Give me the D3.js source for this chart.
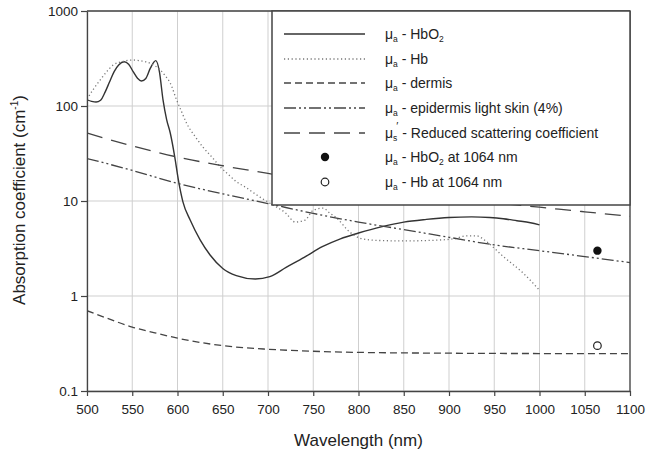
<!doctype html>
<html lang="en">
<head>
<meta charset="utf-8">
<title>Absorption coefficients</title>
<script src="https://d3js.org/d3.v7.min.js"></script>
<style>
  body { margin: 0; background: #fff; }
  svg text { font-family: "Liberation Sans", Arial, Helvetica, sans-serif; fill: #222; }
</style>
</head>
<body>
<svg id="chart" width="647" height="456"></svg>
<script>
// wavelengths (nm) and values (cm^-1)
var hbo2Wl = [500, 505, 510, 515, 520, 525, 530, 535, 541, 546, 551, 556, 560, 565, 570, 576, 580, 584, 588, 592, 597, 601, 606, 614, 625, 636, 650, 665, 686, 702, 720, 740, 760, 780, 800, 825, 850, 875, 900, 925, 945, 960, 975, 990, 1000];
var hbo2Val = [116, 112, 110, 115, 140, 180, 230, 270, 292, 275, 230, 195, 183, 195, 250, 300, 230, 116, 72, 52, 29, 16.6, 9.8, 6.3, 3.9, 2.7, 1.95, 1.64, 1.51, 1.6, 2.0, 2.55, 3.3, 4.0, 4.6, 5.35, 6.0, 6.4, 6.7, 6.8, 6.7, 6.5, 6.2, 5.9, 5.6];

var hbWl = [500, 507, 514, 521, 529, 540, 551, 560, 566, 575, 581, 587, 592, 599, 605, 610, 620, 628, 638, 647, 655, 665, 676, 691, 702, 720, 730, 741, 750, 761, 768, 776, 790, 802, 820, 850, 880, 905, 920, 930, 942, 960, 982, 1000];
var hbVal = [118, 150, 185, 225, 270, 295, 305, 298, 290, 265, 240, 205, 174, 116, 85, 66, 47, 37, 29, 23, 19.5, 16, 13.8, 11, 9.5, 7.4, 6.0, 6.3, 8.0, 8.4, 7.5, 6.6, 4.75, 4.05, 3.85, 3.8, 3.85, 4.0, 4.3, 4.3, 3.7, 2.6, 1.74, 1.15];

var dermisWl = [500, 525, 550, 575, 600, 650, 700, 750, 800, 900, 1000, 1100];
var dermisVal = [0.7, 0.57, 0.47, 0.41, 0.36, 0.3, 0.275, 0.262, 0.255, 0.25, 0.248, 0.248];

var stepWl = [500, 550, 600, 650, 700, 750, 800, 850, 900, 950, 1000, 1050, 1100];
var epidermisVal = [28, 21, 15.3, 11.9, 9.4, 7.4, 6.0, 5.0, 4.15, 3.45, 3.0, 2.6, 2.25];
var scatterVal = [52, 38, 29, 23.5, 19.5, 16.3, 13.8, 12, 10.6, 9.6, 8.6, 7.7, 6.9];

var pointWl = [1064];
var hbo2Point = [3.0];
var hbPoint = [0.3];

var xTicks = [500, 550, 600, 650, 700, 750, 800, 850, 900, 950, 1000, 1050, 1100];
var yTicks = [0.1, 1, 10, 100, 1000];
var yTickLabels = ["0.1", "1", "10", "100", "1000"];

var svg = d3.select("#chart");
var pLeft = 87, pRight = 630, pTop = 11, pBottom = 391;

var x = d3.scaleLinear().domain([500, 1100]).range([pLeft, pRight]);
var y = d3.scaleLog().domain([0.1, 1000]).range([pBottom, pTop]);

svg.append("defs").append("clipPath").attr("id", "plotclip")
  .append("rect").attr("x", pLeft).attr("y", pTop).attr("width", pRight - pLeft).attr("height", pBottom - pTop);

// grid
var grid = svg.append("g");
grid.selectAll(".gx").data(xTicks).enter().append("line")
  .attr("x1", function(d) { return x(d); }).attr("x2", function(d) { return x(d); })
  .attr("y1", pTop).attr("y2", pBottom)
  .attr("stroke", "#cfcfcf").attr("stroke-width", 1);
grid.selectAll(".gy").data(yTicks).enter().append("line")
  .attr("x1", pLeft).attr("x2", pRight)
  .attr("y1", function(d) { return y(d); }).attr("y2", function(d) { return y(d); })
  .attr("stroke", "#cfcfcf").attr("stroke-width", 1);

function zip(a, b) { return a.map(function(w, i) { return [w, b[i]]; }); }

var line = d3.line()
  .x(function(d) { return x(d[0]); })
  .y(function(d) { return y(d[1]); })
  .curve(d3.curveMonotoneX);

var series = [
  { data: zip(hbo2Wl, hbo2Val), dash: null, color: "#333", width: 1.4 },
  { data: zip(hbWl, hbVal), dash: "1.2,2.6", color: "#777", width: 1.3 },
  { data: zip(dermisWl, dermisVal), dash: "7,4", color: "#444", width: 1.3 },
  { data: zip(stepWl, epidermisVal), dash: "12,3,2,3,2,3", color: "#444", width: 1.3 },
  { data: zip(stepWl, scatterVal), dash: "16,9", color: "#444", width: 1.3 }
];

var curves = svg.append("g").attr("clip-path", "url(#plotclip)");
series.forEach(function(s) {
  curves.append("path").datum(s.data)
    .attr("d", line)
    .attr("fill", "none")
    .attr("stroke", s.color)
    .attr("stroke-width", s.width)
    .attr("stroke-dasharray", s.dash);
});

curves.selectAll(".p1").data(zip(pointWl, hbo2Point)).enter().append("circle")
  .attr("cx", function(d) { return x(d[0]); }).attr("cy", function(d) { return y(d[1]); })
  .attr("r", 4.2).attr("fill", "#111");
curves.selectAll(".p2").data(zip(pointWl, hbPoint)).enter().append("circle")
  .attr("cx", function(d) { return x(d[0]); }).attr("cy", function(d) { return y(d[1]); })
  .attr("r", 3.8).attr("fill", "#fff").attr("stroke", "#222").attr("stroke-width", 1.2);

// axes
var xAxis = svg.append("g").attr("transform", "translate(0," + pBottom + ")")
  .call(d3.axisBottom(x).tickValues(xTicks).tickSize(5).tickSizeOuter(0).tickFormat(d3.format("d")));
var yAxis = svg.append("g").attr("transform", "translate(" + pLeft + ",0)")
  .call(d3.axisLeft(y).tickValues(yTicks).tickSize(6).tickSizeOuter(0)
    .tickFormat(function(d, i) { return yTickLabels[i]; }));
[xAxis, yAxis].forEach(function(a) {
  a.select(".domain").attr("stroke", "#444").attr("stroke-width", 1.3);
  a.selectAll(".tick line").attr("stroke", "#444").attr("stroke-width", 1.2);
  a.selectAll(".tick text").attr("font-size", 13.5).attr("fill", "#222")
    .style("font-family", "'Liberation Sans', Arial, sans-serif");
});
xAxis.selectAll(".tick text").attr("dy", "1.1em");

// frame top / right
svg.append("line").attr("x1", pLeft).attr("x2", pRight).attr("y1", pTop).attr("y2", pTop)
  .attr("stroke", "#444").attr("stroke-width", 1.3);
svg.append("line").attr("x1", pRight).attr("x2", pRight).attr("y1", pTop).attr("y2", pBottom)
  .attr("stroke", "#444").attr("stroke-width", 1.3);

// legend
var lg = svg.append("g");
lg.append("rect").attr("x", 272).attr("y", pTop).attr("width", pRight - 272).attr("height", 194)
  .attr("fill", "#fff").attr("stroke", "#444").attr("stroke-width", 1.5);

var rowY = [34, 59, 83, 108, 133, 157, 182];
var keyX0 = 284, keyX1 = 365, textX = 385;

function mu(t, sub) {
  t.append("tspan").text("\u03bc");
  t.append("tspan").text(sub).attr("font-size", 8.5).attr("dy", 3);
  t.append("tspan").text("\u00a0").attr("dy", -3);
}

series.forEach(function(s, i) {
  lg.append("line").attr("x1", keyX0).attr("x2", keyX1).attr("y1", rowY[i]).attr("y2", rowY[i])
    .attr("stroke", s.color).attr("stroke-width", s.width).attr("stroke-dasharray", s.dash);
});
lg.append("circle").attr("cx", 325).attr("cy", rowY[5]).attr("r", 4.2).attr("fill", "#111");
lg.append("circle").attr("cx", 325).attr("cy", rowY[6]).attr("r", 3.8).attr("fill", "#fff")
  .attr("stroke", "#222").attr("stroke-width", 1.2);

function legendText(i) {
  return lg.append("text").attr("x", textX).attr("y", rowY[i] + 5).attr("font-size", 14);
}
var t;
t = legendText(0); mu(t, "a"); t.append("tspan").text("- HbO");
t.append("tspan").text("2").attr("font-size", 8.5).attr("dy", 3);
t = legendText(1); mu(t, "a"); t.append("tspan").text("- Hb");
t = legendText(2); mu(t, "a"); t.append("tspan").text("- dermis");
t = legendText(3); mu(t, "a"); t.append("tspan").text("- epidermis light skin (4%)");
t = legendText(4);
t.append("tspan").text("\u03bc");
t.append("tspan").text("s").attr("font-size", 8.5).attr("dy", 3);
t.append("tspan").text("\u2032").attr("font-size", 11).attr("dx", -1).attr("dy", -11);
t.append("tspan").text("\u00a0- Reduced scattering coefficient").attr("dy", 8);
t = legendText(5); mu(t, "a"); t.append("tspan").text("- HbO");
t.append("tspan").text("2").attr("font-size", 8.5).attr("dy", 3);
t.append("tspan").text(" at 1064 nm").attr("dy", -3);
t = legendText(6); mu(t, "a"); t.append("tspan").text("- Hb at 1064 nm");

// axis titles
svg.append("text").attr("x", (pLeft + pRight) / 2).attr("y", 446)
  .attr("text-anchor", "middle").attr("font-size", 17).text("Wavelength (nm)");
var yl = svg.append("text").attr("transform", "translate(25,200) rotate(-90)")
  .attr("text-anchor", "middle").attr("font-size", 17);
yl.append("tspan").text("Absorption coefficient (cm");
yl.append("tspan").text("-1").attr("font-size", 10).attr("dy", -7);
yl.append("tspan").text(")").attr("dy", 7);
</script>
</body>
</html>
